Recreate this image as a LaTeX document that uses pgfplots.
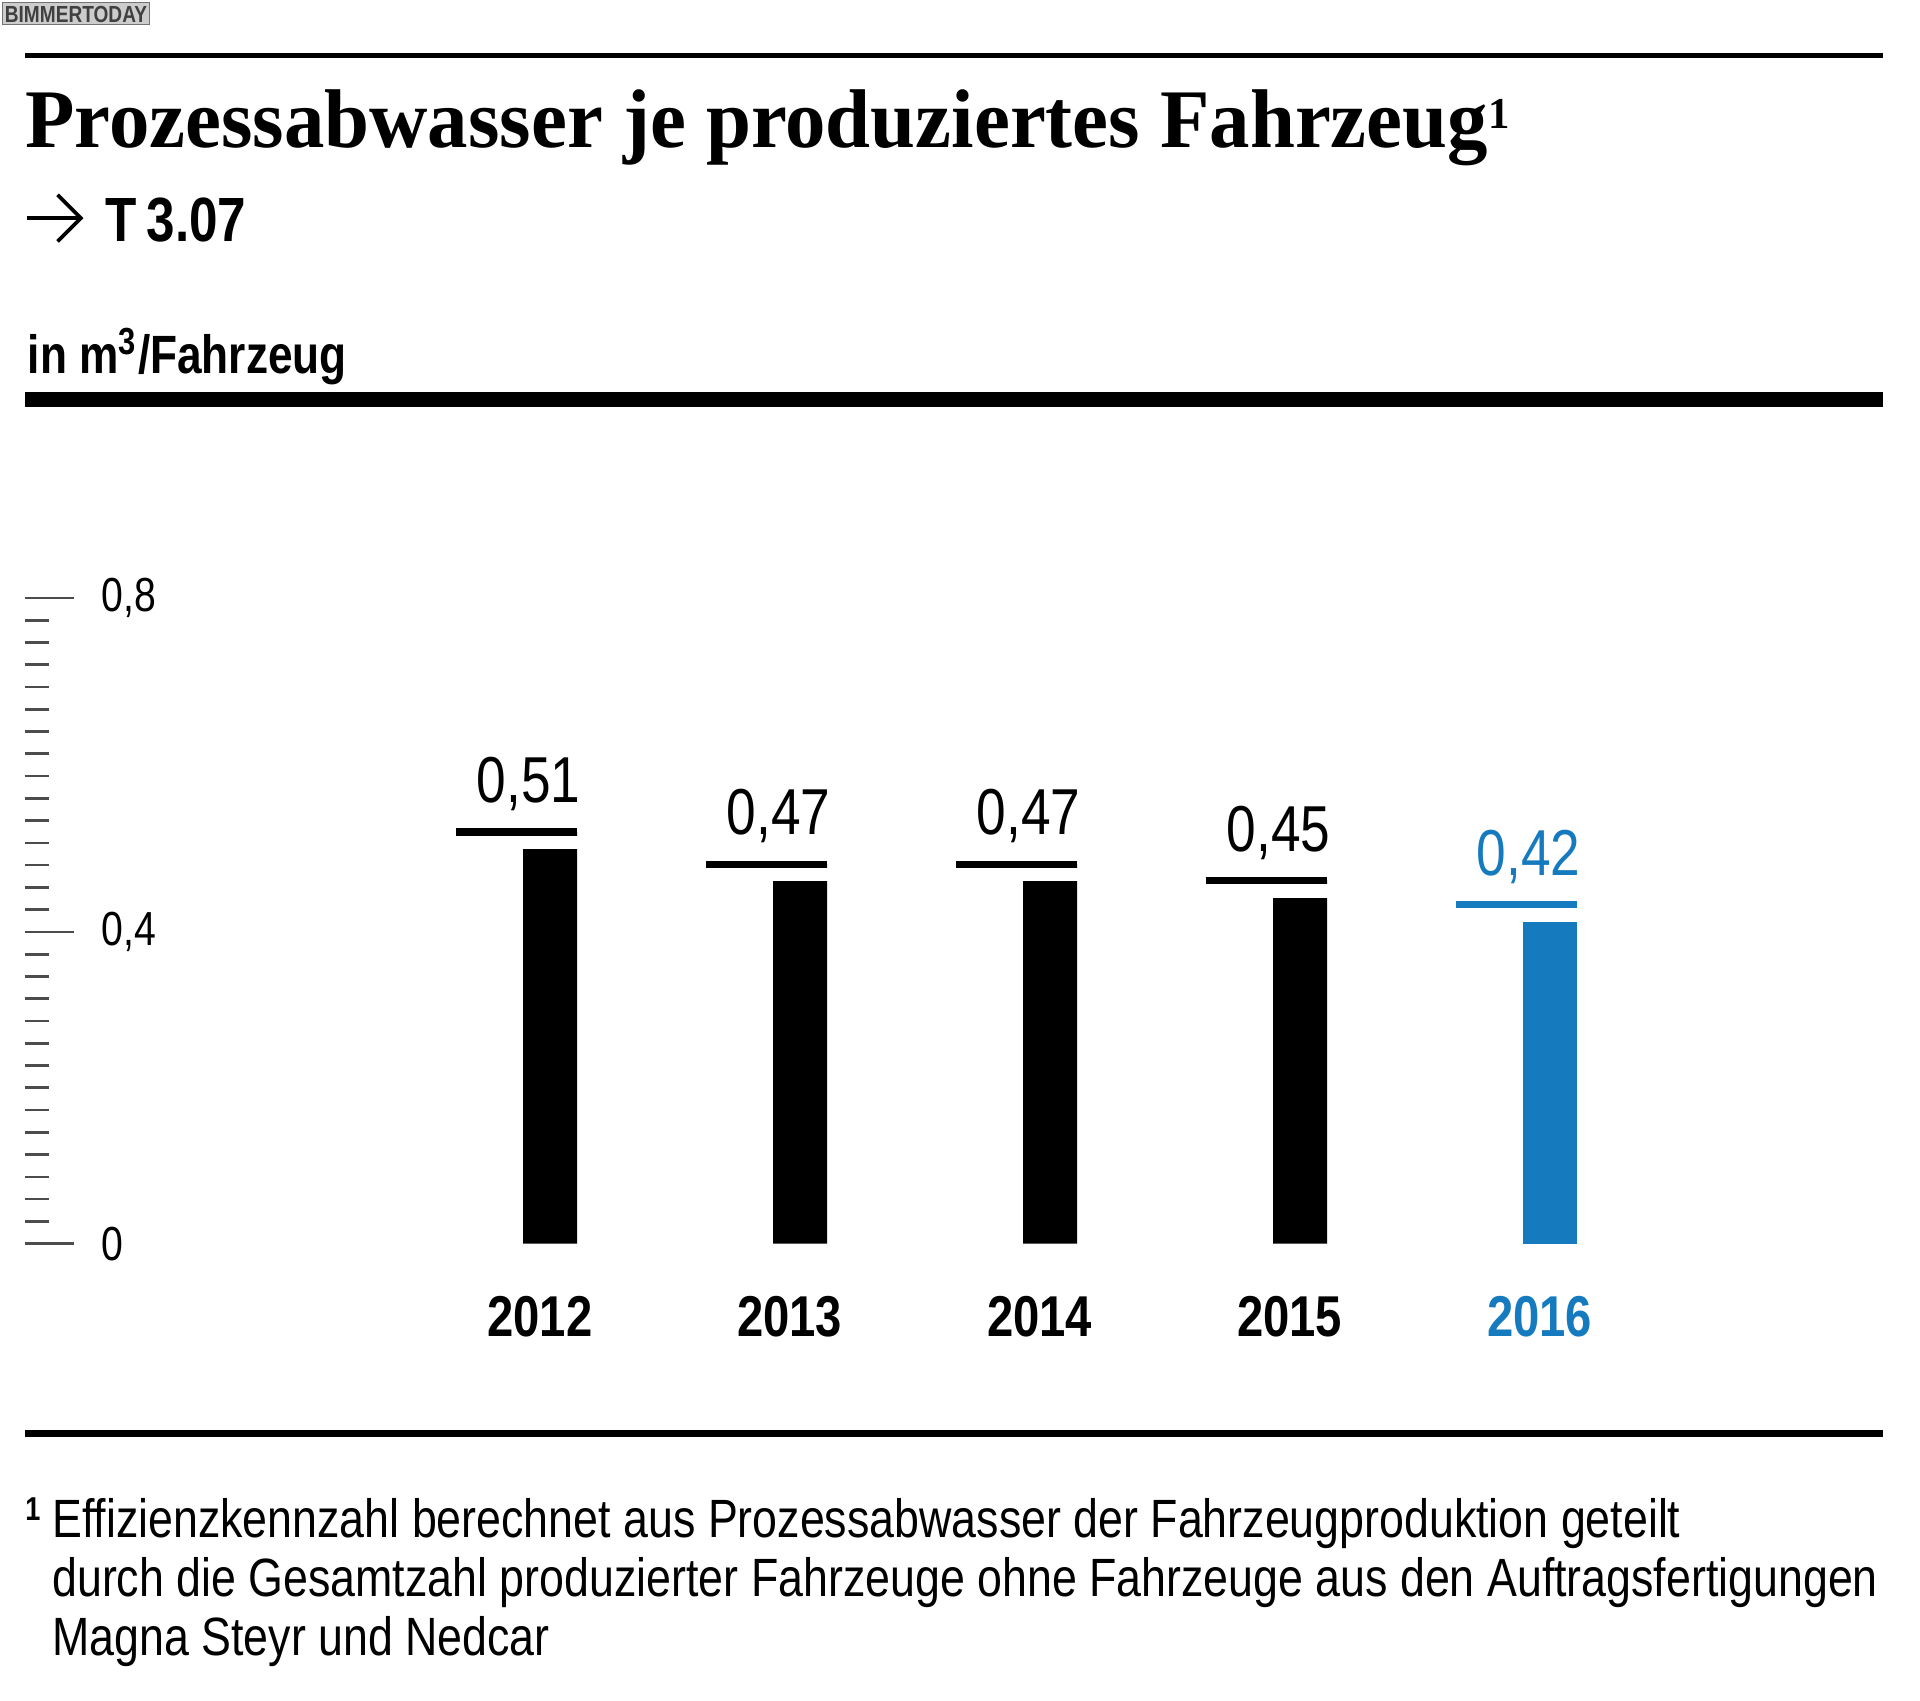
\documentclass[border=0pt]{standalone}
\usepackage{pgfplots}
\pgfplotsset{compat=1.18}
\usepackage{fontspec}
\setmainfont{Liberation Sans}
\newfontfamily\cond[FakeStretch=0.82]{Liberation Sans}
\newfontfamily\condf[FakeStretch=0.83]{Liberation Sans}
\newfontfamily\titlefont[FakeStretch=0.97]{Liberation Serif}
\definecolor{bmwblue}{RGB}{22,122,190}

% value marker: rule at the value, white gap above the bar
\pgfdeclareplotmark{valline}{%
  \pgfpathrectangle{\pgfpoint{-2.3mm}{-1.4mm}}{\pgfpoint{4.6mm}{1.1mm}}%
  \pgfsetfillcolor{white}\pgfusepath{fill}%
  \pgfpathmoveto{\pgfpoint{-7.7mm}{0mm}}%
  \pgfpathlineto{\pgfpoint{2.2mm}{0mm}}%
  \pgfusepath{stroke}%
}

\begin{document}
\begin{tikzpicture}[x=0.1mm,y=-0.1mm]
\useasboundingbox (0,0) rectangle (1567,1388);

% watermark
\draw[black!55, fill=black!20, line width=0.15mm] (2,2) rectangle (122,20);
\node[inner sep=0, text=black!75, font=\cond\bfseries\fontsize{1.9mm}{2mm}\selectfont] at (62,11.5) {BIMMERTODAY};

% header
\fill (20,43) rectangle (1537,47);
\node[anchor=base west, inner sep=0, font=\titlefont\bfseries\fontsize{6.8mm}{7mm}\selectfont]
  at (20,120) {Prozessabwasser je produziertes Fahrzeug{\fontsize{3.6mm}{4mm}\selectfont\raisebox{1.5mm}{1}}};
\draw[line width=0.3mm] (22,178) -- (66,178);
\draw[line width=0.3mm] (47,159) -- (66,178) -- (47,197);
\node[anchor=base west, inner sep=0, font=\cond\bfseries\fontsize{5.1mm}{6mm}\selectfont]
  at (85,197) {T\,3.07};
\node[anchor=base west, inner sep=0, font=\cond\bfseries\fontsize{4.4mm}{5mm}\selectfont]
  at (22,305) {in m\textsuperscript{3}/Fahrzeug};
\fill (20,320) rectangle (1537,332);

% the scale has 29 equal steps from 0 to 0,8; the 0,4 mark sits on step 14
\begin{axis}[
  at={(2mm,-101.5mm)}, anchor=south west,
  scale only axis, width=151.7mm, height=52.7mm,
  xmin=-2.103, xmax=5.333, ymin=0, ymax=0.8,
  axis lines*=left, axis line style={draw=none},
  tick align=inside,
  xtick={0,1,2,3,4},
  xticklabels={2012,2013,2014,2015,{\textcolor{bmwblue}{2016}}},
  x tick style={draw=none},
  ytick={0,0.386207,0.8}, yticklabels={0,{0,4},{0,8}},
  minor ytick={0.0275862,0.0551724,...,0.79},
  major tick length=4mm, minor tick length=2mm,
  y tick style={black!70, line width=0.22mm},
  yticklabel style={anchor=west, inner sep=0pt, xshift=6.2mm,
    font=\cond\fontsize{3.9mm}{4mm}\selectfont},
  xticklabel style={anchor=north, inner sep=0pt, yshift=-4.2mm, xshift=-0.85mm,
    font=\cond\bfseries\fontsize{4.7mm}{5mm}\selectfont},
  clip=false,
]
\addplot[ybar, bar width=4.4mm, bar shift=0pt, fill=black, draw=none]
  coordinates {(0,0.51) (1,0.47) (2,0.47) (3,0.45)};
\addplot[ybar, bar width=4.4mm, bar shift=0pt, fill=bmwblue, draw=none]
  coordinates {(4,0.42)};
\addplot[only marks, mark=valline, mark options={draw=black, line width=0.6mm},
  point meta=y,
  nodes near coords={\pgfmathprintnumber[assume math mode=true,use comma,fixed,fixed zerofill,precision=2]{\pgfplotspointmeta}},
  every node near coord/.append style={anchor=base, inner sep=0pt, xshift=-1.75mm, yshift=2.4mm,
    text=black, font=\cond\fontsize{5.3mm}{6mm}\selectfont}]
  coordinates {(0,0.51) (1,0.47) (2,0.47) (3,0.45)};
\addplot[only marks, mark=valline, mark options={draw=bmwblue, line width=0.6mm},
  point meta=y,
  nodes near coords={\pgfmathprintnumber[assume math mode=true,use comma,fixed,fixed zerofill,precision=2]{\pgfplotspointmeta}},
  every node near coord/.append style={anchor=base, inner sep=0pt, xshift=-1.75mm, yshift=2.4mm,
    text=bmwblue, font=\cond\fontsize{5.3mm}{6mm}\selectfont}]
  coordinates {(4,0.42)};
\end{axis}

\fill (20,1167) rectangle (1537,1173);

% footnote
\node[anchor=base west, inner sep=0, font=\cond\bfseries\fontsize{2.7mm}{3mm}\selectfont] at (20,1241) {1};
\begin{scope}[every node/.style={anchor=base west, inner sep=0, font=\condf\fontsize{4.4mm}{4.8mm}\selectfont}]
\node at (42,1255) {Effizienzkennzahl berechnet aus Prozessabwasser der Fahrzeugproduktion geteilt};
\node at (42,1303) {durch die Gesamtzahl produzierter Fahrzeuge ohne Fahrzeuge aus den Auftragsfertigungen};
\node at (42,1351) {Magna Steyr und Nedcar};
\end{scope}
\end{tikzpicture}
\end{document}
